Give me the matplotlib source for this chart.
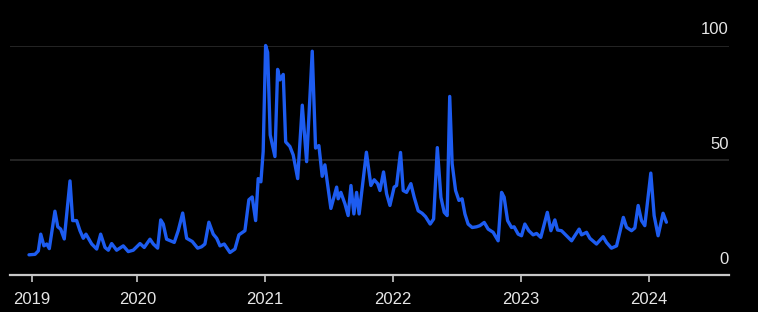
import numpy as np
import matplotlib.pyplot as plt

# search interest (0-100), decimal years
years = [
    2019.151, 2019.198, 2019.224, 2019.243, 2019.268, 2019.290, 2019.310, 2019.354,
    2019.376, 2019.399, 2019.427, 2019.472, 2019.493, 2019.524, 2019.550, 2019.576,
    2019.597, 2019.642, 2019.681, 2019.712, 2019.746, 2019.772, 2019.798, 2019.837,
    2019.889, 2019.928, 2019.967, 2020.020, 2020.053, 2020.098, 2020.124, 2020.158,
    2020.182, 2020.202, 2020.228, 2020.288, 2020.319, 2020.354, 2020.385, 2020.429,
    2020.471, 2020.502, 2020.528, 2020.559, 2020.593, 2020.620, 2020.646, 2020.679,
    2020.724, 2020.763, 2020.794, 2020.841, 2020.872, 2020.898, 2020.925, 2020.945,
    2020.966, 2020.984, 2021.003, 2021.019, 2021.039, 2021.076, 2021.097, 2021.115,
    2021.141, 2021.160, 2021.193, 2021.219, 2021.254, 2021.290, 2021.324, 2021.368,
    2021.394, 2021.420, 2021.446, 2021.467, 2021.514, 2021.559, 2021.571, 2021.592,
    2021.624, 2021.649, 2021.671, 2021.694, 2021.715, 2021.735, 2021.792, 2021.827,
    2021.853, 2021.880, 2021.898, 2021.926, 2021.950, 2021.976, 2022.009, 2022.028,
    2022.059, 2022.080, 2022.106, 2022.140, 2022.166, 2022.197, 2022.228, 2022.255,
    2022.291, 2022.318, 2022.347, 2022.375, 2022.401, 2022.424, 2022.444, 2022.463,
    2022.490, 2022.516, 2022.541, 2022.563, 2022.588, 2022.620, 2022.654, 2022.680,
    2022.714, 2022.745, 2022.784, 2022.823, 2022.850, 2022.870, 2022.897, 2022.928,
    2022.948, 2022.980, 2023.006, 2023.032, 2023.063, 2023.097, 2023.124, 2023.157,
    2023.208, 2023.236, 2023.267, 2023.288, 2023.319, 2023.358, 2023.398, 2023.423,
    2023.457, 2023.476, 2023.515, 2023.541, 2023.593, 2023.645, 2023.671, 2023.710,
    2023.750, 2023.803, 2023.828, 2023.867, 2023.893, 2023.919, 2023.945, 2023.971,
    2024.018, 2024.044, 2024.075, 2024.114, 2024.140,
]
interest = [
    8.8, 9, 10.5, 17.8, 12.7, 13.5, 11.5, 27.8,
    21, 20, 15.7, 41, 23.7, 23.7, 19.3, 16,
    17.8, 13.5, 11.3, 17.8, 12, 10.8, 13.7, 10.8,
    12.7, 10.2, 10.8, 13.7, 12, 15.6, 13.5, 11.7,
    24, 22.2, 15.6, 14.2, 19.3, 27, 16, 14.6,
    11.7, 12.3, 13.5, 23, 17.8, 16, 12.7, 13.5,
    9.8, 11.3, 17.5, 19.3, 32.8, 34, 23.7, 42,
    40.6, 53.8, 100, 97, 61, 51.6, 89.6, 85,
    87.4, 58, 56, 52.3, 42, 74, 49.4, 97.5,
    55.3, 56.4, 43, 48, 29, 38.3, 33.2, 36,
    31, 25.9, 39, 26.6, 36, 26.6, 53.5, 39,
    41.5, 39.8, 36.8, 44.9, 35.4, 30.3, 38.3, 39,
    53.4, 36.8, 36, 39.8, 33.9, 28, 26.9, 25.4,
    22.2, 24.4, 55.5, 33.9, 27.3, 25.9, 77.8, 48.5,
    36.8, 32.5, 33.2, 26.6, 22.2, 20.7, 21, 21.5,
    22.9, 20, 18.6, 14.9, 36, 33.9, 23.7, 20.7,
    21, 17.8, 17.1, 22.2, 19.3, 17.5, 18.1, 16.4,
    27.3, 19.3, 24, 19.6, 19.3, 17.1, 14.9, 17.1,
    20, 17.5, 18.6, 16, 13.5, 16.7, 14.2, 11.7,
    12.7, 25.1, 20.8, 19.3, 20.5, 30.3, 23.7, 21.5,
    44.4, 25.9, 17.1, 26.9, 23,
]

tick_pos = [2019.172, 2020, 2021, 2022, 2023, 2024]
tick_labels = ['2019', '2020', '2021', '2022', '2023', '2024']
y_levels = [0, 50, 100]

plt.rcParams['font.family'] = ['Liberation Sans', 'DejaVu Sans']

fig = plt.figure(figsize=(7.58, 3.12), dpi=100, facecolor='black')
ax = fig.add_axes([9.7 / 758, (312 - 275) / 312, (729 - 9.7) / 758, 229.5 / 312])
ax.set_facecolor('black')

for lv in y_levels[1:]:
    ax.axhline(lv, color='#2b2b2b', lw=1.2, zorder=1)
for lv in y_levels:
    ax.annotate(str(lv), xy=(1, lv), xycoords=('axes fraction', 'data'),
                xytext=(0, 6), textcoords='offset points',
                ha='right', va='bottom', color='#e6e6e6', fontsize=12)

ax.plot(years, interest, color='#1d5cf0', lw=2.4, solid_joinstyle='round',
        solid_capstyle='round', zorder=3, clip_on=False)

ax.set_xlim(2019.0, 2024.63)
ax.set_ylim(0, 100)
for s in ['top', 'right', 'left']:
    ax.spines[s].set_visible(False)
ax.spines['bottom'].set_color('#c8c8c8')
ax.spines['bottom'].set_linewidth(1.6)
ax.set_yticks([])
ax.set_xticks(tick_pos)
ax.set_xticklabels(tick_labels)
ax.tick_params(axis='x', colors='#c8c8c8', length=5, width=1.2, pad=7, labelsize=12, labelcolor='#e6e6e6')

fig.savefig('out.png', dpi=100, facecolor='black')
